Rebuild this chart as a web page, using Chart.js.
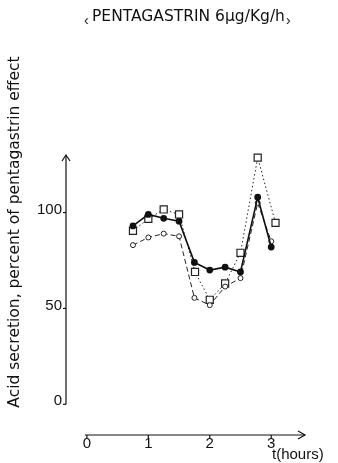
<!DOCTYPE html>
<html>
<head>
<meta charset="utf-8">
<script src="https://cdn.jsdelivr.net/npm/chart.js"></script>
<style>
  body{margin:0;background:#fff;}
</style>
</head>
<body>
<canvas id="myChart" width="338" height="463"></canvas>
<script>
// values
const times=[0.75,1,1.25,1.5,1.75,2,2.25,2.5,2.78,3.0];
const timesSquare=[0.75,1,1.25,1.5,1.76,2,2.25,2.5,2.78,3.07];
const solidValues=[93,99,97,95.5,74,70,71.5,69,108,82];
const squareValues=[90.5,96.7,101.6,99,69,54.5,63,79,128.6,94.6];
const openValues=[83,87,89,87.6,55.5,51.7,61.4,65.8,105,85];
const xTicks=[0,1,2,3];
const yTicks=[0,50,100];

const ctx=document.getElementById('myChart');

function pairs(xs,ys){
  let out=[];
  xs.forEach((x,i)=>{ out.push({x:x,y:ys[i]}); });
  return out;
}

const font="Liberation Sans, Arial, sans-serif";
const wideFont="DejaVu Sans, sans-serif";

// axes, ticks and texts drawn by hand, positioned with the chart scales
const axesPlugin={
  id:'axesPlugin',
  afterDraw(chart){
    let c=chart.ctx;
    let xs=chart.scales.x;
    let ys=chart.scales.y;
    let area=chart.chartArea;
    c.save();
    c.strokeStyle='#111';
    c.fillStyle='#111';
    c.lineWidth=1.2;

    // y axis
    let yx=area.left;
    let y0=ys.getPixelForValue(0);
    c.beginPath();
    c.moveTo(yx,y0);
    c.lineTo(yx,area.top);
    c.stroke();
    c.beginPath();
    c.moveTo(yx-4,area.top+6);
    c.lineTo(yx,area.top);
    c.lineTo(yx+4,area.top+6);
    c.stroke();

    c.font="15px "+font;
    c.textAlign='right';
    c.textBaseline='middle';
    yTicks.forEach(v=>{
      let py=ys.getPixelForValue(v);
      c.beginPath();
      c.moveTo(yx-3,py);
      c.lineTo(yx,py);
      c.stroke();
      c.fillText(String(v),yx-4,py-3);
    });

    // x axis
    let xy=area.bottom;
    let x0=xs.getPixelForValue(0);
    c.beginPath();
    c.moveTo(x0-2,xy);
    c.lineTo(area.right,xy);
    c.stroke();
    c.beginPath();
    c.moveTo(area.right-7,xy-4);
    c.lineTo(area.right,xy);
    c.lineTo(area.right-7,xy+4);
    c.stroke();

    c.textAlign='center';
    c.textBaseline='top';
    xTicks.forEach(v=>{
      let px=xs.getPixelForValue(v);
      c.beginPath();
      c.moveTo(px,xy);
      c.lineTo(px,xy+4);
      c.stroke();
      c.fillText(String(v),px,xy+1);
    });

    c.textAlign='left';
    c.fillText('t(hours)',272,xy+12);

    // y title
    c.save();
    c.translate(15,232);
    c.rotate(-Math.PI/2);
    c.textAlign='center';
    c.textBaseline='middle';
    c.font="15.5px "+wideFont;
    c.fillText('Acid secretion, percent of pentagastrin effect',0,0);
    c.restore();

    // title
    c.textAlign='left';
    c.textBaseline='middle';
    c.font="15.5px "+wideFont;
    let title='PENTAGASTRIN 6µg/Kg/h';
    let tw=c.measureText(title).width;
    let tx=92;
    c.fillText(title,tx,17);
    c.font="14px "+font;
    c.fillText('‹',tx-8,21);
    c.fillText('›',tx+tw+1,21);

    c.restore();
  }
};

new Chart(ctx,{
  type:'scatter',
  data:{
    datasets:[
      {
        label:'solid',
        data:pairs(times,solidValues),
        showLine:true,
        borderColor:'#111',
        backgroundColor:'#111',
        borderWidth:1.6,
        pointRadius:2.6,
        pointStyle:'circle'
      },
      {
        label:'open',
        data:pairs(times,openValues),
        showLine:true,
        borderColor:'#222',
        backgroundColor:'#fff',
        borderWidth:1,
        borderDash:[5,3],
        pointRadius:2.5,
        pointBorderWidth:1,
        pointStyle:'circle'
      },
      {
        label:'square',
        data:pairs(timesSquare,squareValues),
        showLine:true,
        borderColor:'#222',
        backgroundColor:'#fff',
        borderWidth:1,
        borderDash:[1.5,2.5],
        pointRadius:5,
        pointBorderWidth:1.2,
        pointStyle:'rect'
      }
    ]
  },
  options:{
    responsive:false,
    animation:false,
    clip:false,
    layout:{padding:{left:66,right:33,top:155,bottom:28}},
    plugins:{
      legend:{display:false},
      title:{display:false},
      tooltip:{enabled:false}
    },
    scales:{
      x:{type:'linear',min:-0.34,max:3.55,display:false},
      y:{type:'linear',min:-16,max:130,display:false}
    }
  },
  plugins:[axesPlugin]
});
</script>
</body>
</html>
